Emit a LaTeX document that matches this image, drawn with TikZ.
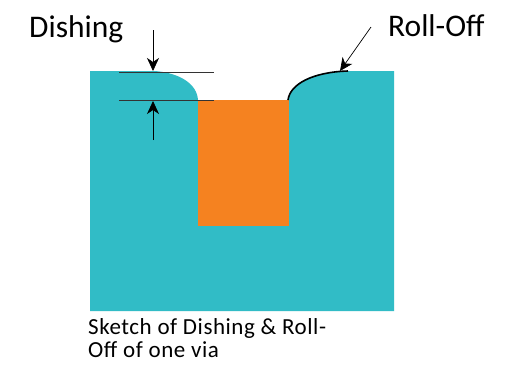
\documentclass[tikz,border=0pt]{standalone}
\usepackage{fontspec}
\setmainfont{Carlito}
\newfontfamily\capfont[LetterSpace=2.4]{Carlito}
\usetikzlibrary{arrows.meta}
\definecolor{teal1}{HTML}{31BCC6}
\definecolor{orange1}{HTML}{F58220}
\tikzset{px/.style={x=1pt,y=-1pt},
 thinline/.style={black!80,line width=0.7pt},
 arrowline/.style={black,line width=0.7pt,-{Stealth[length=13pt,width=12pt,inset=4pt]}},
 lab/.style={inner sep=0pt,anchor=west,font=\fontsize{31.5}{36}\selectfont},
 captext/.style={inner sep=0pt,anchor=west,font=\capfont\fontsize{23}{27}\selectfont}}
\begin{document}
\begin{tikzpicture}[px]
\useasboundingbox (0,0) rectangle (508,365);
\fill[white] (0,0) rectangle (508,365);
\fill[teal1] (90,71) -- (155,71) .. controls (180,73) and (197,84) .. (198,100) -- (288,100) .. controls (290,82) and (315,71) .. (350,71) -- (394,71) -- (394,311) -- (90,311) -- cycle;
\fill[orange1] (198,100) rectangle (289,226);
\draw[black,line width=1.6pt] (288,100) .. controls (290,84) and (313,72) .. (348,71);
\coordinate (t1) at (119,72); \coordinate (t2) at (214,72);
\coordinate (b1) at (119,100); \coordinate (b2) at (214,100);
\draw[thinline] (t1) -- (t2);
\draw[thinline] (b1) -- (b2);
\coordinate (a1) at (153,30); \coordinate (a2) at (153,71);
\coordinate (a3) at (153,140); \coordinate (a4) at (153,101);
\draw[arrowline] (a1) -- (a2);
\draw[arrowline] (a3) -- (a4);
\coordinate (a5) at (371,27); \coordinate (a6) at (340,71);
\draw[arrowline] (a5) -- (a6);
\node[lab] (d) at (29,29) {Dishing};
\node[lab] (r) at (388,26) {Roll-Off};
\node[captext] (c1) at (88,328) {Sketch of Dishing \& Roll-};
\node[captext] (c2) at (88,350) {Off of one via};
\end{tikzpicture}
\end{document}
